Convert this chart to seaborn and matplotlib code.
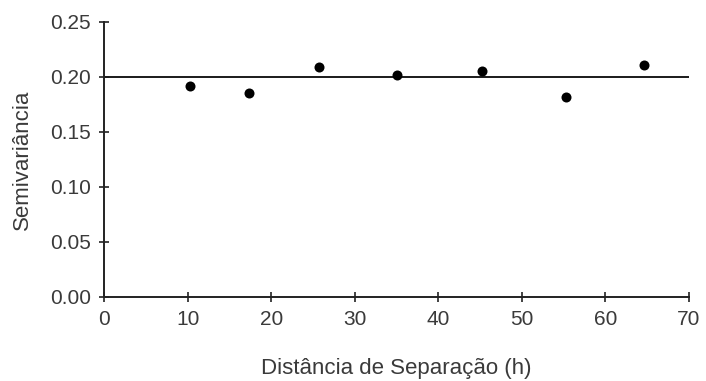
import matplotlib
matplotlib.use("Agg")
import matplotlib.pyplot as plt
import seaborn as sns
import pandas as pd

# Experimental semivariogram values
distancia = [10.3, 17.3, 25.7, 35.1, 45.2, 55.3, 64.6]
semivariancia = [0.192, 0.185, 0.209, 0.202, 0.2055, 0.182, 0.2105]

# Pure nugget model: constant sill
patamar = 0.20
modelo_x = [0, 70]

x_ticks = [0, 10, 20, 30, 40, 50, 60, 70]
y_ticks = [0.00, 0.05, 0.10, 0.15, 0.20, 0.25]

sns.set_theme(style="ticks")
plt.rcParams["font.family"] = ["Liberation Sans", "DejaVu Sans"]

df = pd.DataFrame({"h": distancia, "gamma": semivariancia})
modelo = pd.DataFrame({"h": modelo_x, "gamma": [patamar, patamar]})

fig = plt.figure(figsize=(7.06, 3.81), dpi=100)
ax = fig.add_axes([0.1473, 0.2205, 0.8286, 0.7218])

sns.lineplot(data=modelo, x="h", y="gamma", ax=ax, color="#1a1a1a", linewidth=1.4)
sns.scatterplot(data=df, x="h", y="gamma", ax=ax, color="black", s=52,
                edgecolor="black", linewidth=0, zorder=3)

ax.set_xlim(0, 70)
ax.set_ylim(0, 0.25)
ax.set_xticks(x_ticks)
ax.set_yticks(y_ticks)
ax.set_xticklabels([str(v) for v in x_ticks])
ax.set_yticklabels([f"{v:.2f}" for v in y_ticks])

txt = "#3a3a3a"
ax.tick_params(axis="both", direction="inout", length=7, width=1.2,
               colors="#222222", labelcolor=txt, labelsize=15, pad=6)
ax.set_xlabel("Distância de Separação (h)", fontsize=16, color=txt, labelpad=21)
ax.set_ylabel("Semivariância", fontsize=16, color=txt, labelpad=12)

for side in ["top", "right"]:
    ax.spines[side].set_visible(False)
for side in ["left", "bottom"]:
    ax.spines[side].set_color("#222222")
    ax.spines[side].set_linewidth(1.4)

fig.savefig("out.png", dpi=100)
